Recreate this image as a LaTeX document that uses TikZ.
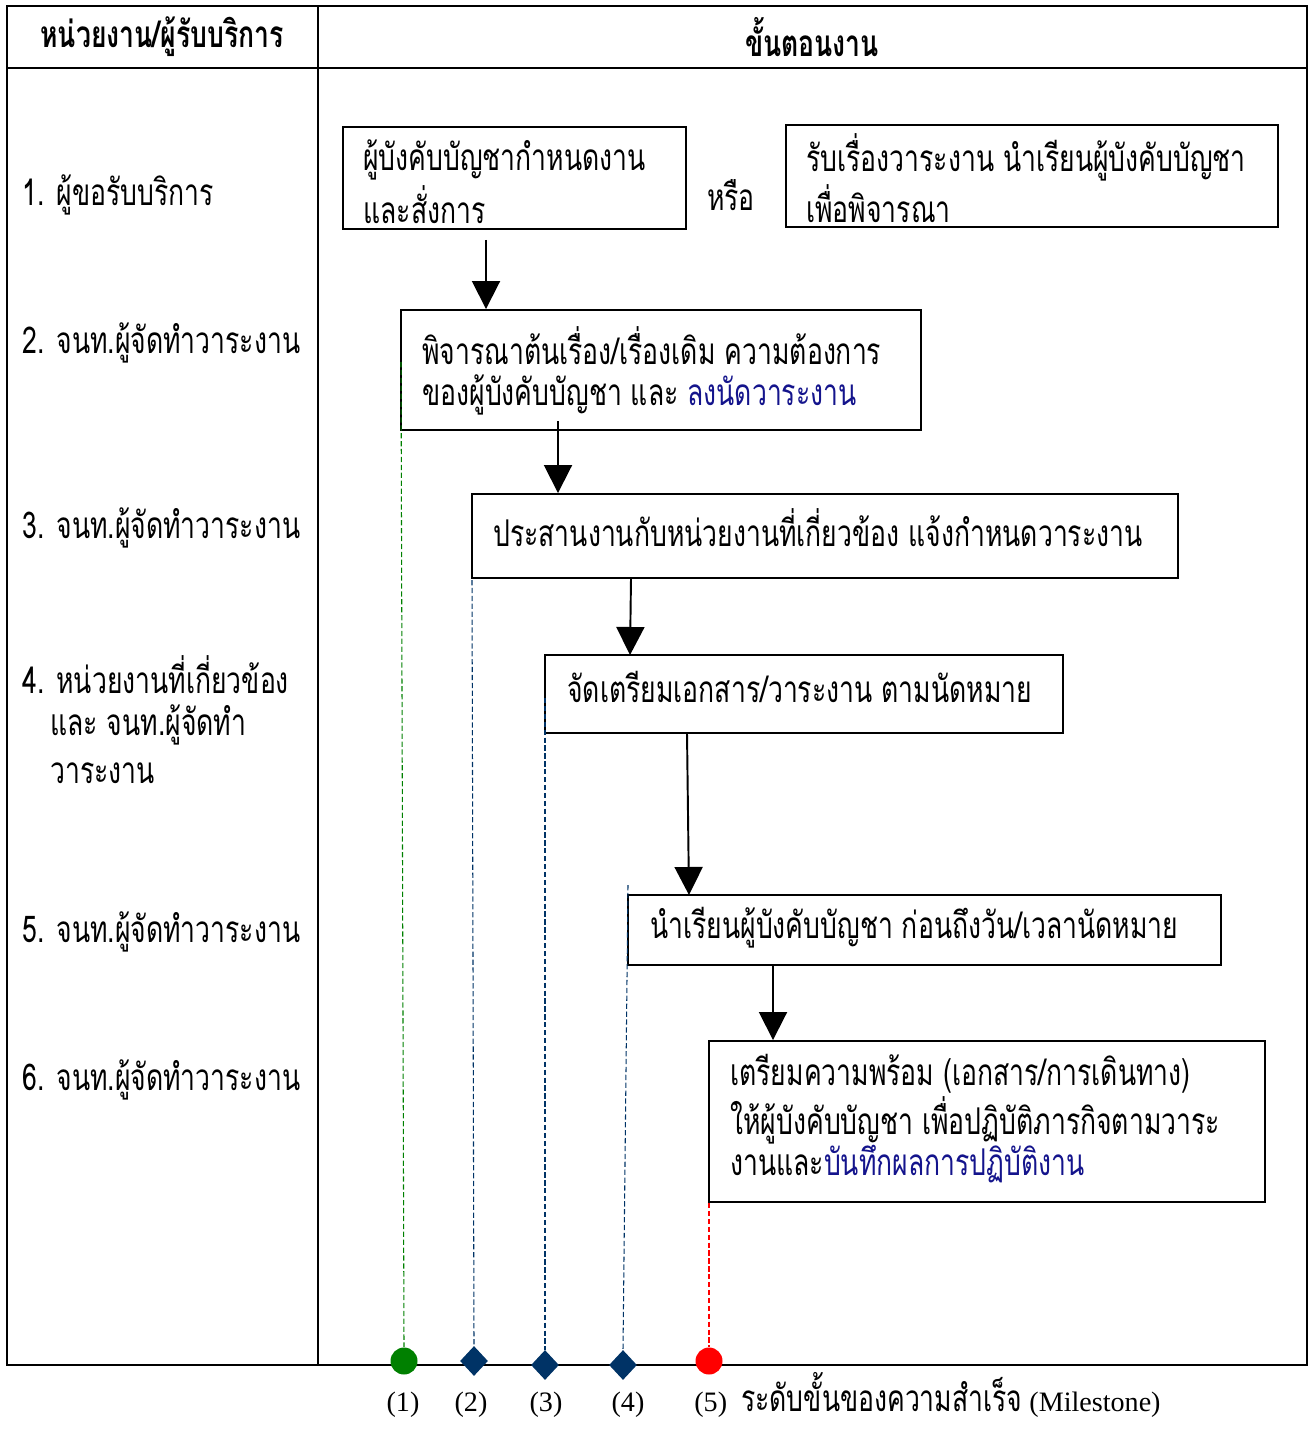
\documentclass[tikz,border=0pt]{standalone}
\usepackage{fontspec}
\setmainfont{Liberation Serif}
\newfontfamily\thai[Script=Thai,FakeStretch=0.72]{Loma}
\usetikzlibrary{arrows.meta,calc,fit,shapes.geometric}
\definecolor{navyt}{RGB}{20,20,140}
\definecolor{msgreen}{RGB}{0,128,0}
\definecolor{msblue}{RGB}{0,51,102}
\definecolor{msred}{RGB}{255,0,0}
\begin{document}
\begin{tikzpicture}[x=0.02cm,y=-0.02cm,
  tbl/.style={line width=1.2pt},
  box/.style={draw,line width=1.1pt,inner sep=0pt},
  txt/.style={font=\thai\fontsize{21}{25}\selectfont,anchor=west,inner sep=0pt},
  hdr/.style={font=\thai\bfseries\fontsize{21}{25}\selectfont,inner sep=0pt},
  lat/.style={font=\fontsize{16}{19}\selectfont,inner sep=0pt,anchor=base},
  arr/.style={line width=1.1pt,-{Triangle[width=0.56cm,length=0.56cm]}},
  dl/.style={line width=0.6pt,dash pattern=on 3pt off 1.5pt},
  dot/.style={circle,inner sep=0pt,minimum size=0.54cm},
  dia/.style={diamond,inner sep=0pt,minimum width=0.56cm,minimum height=0.6cm,fill=msblue}]
\useasboundingbox (0,0) rectangle (1309,1429);
% table
\draw[tbl] (7,6) rectangle (1307,1365);
\draw[tbl] (318,6) -- (318,1365);
\draw[tbl] (7,68) -- (1307,68);
\node[hdr] (h1) at (162,37) {หน่วยงาน/ผู้รับบริการ};
\node[hdr] (h2) at (812,37) {ขั้นตอนงาน};
% left labels
\node[txt] (l1) at (22,195) {1. ผู้ขอรับบริการ};
\node[txt] (l2) at (22,343) {2. จนท.ผู้จัดทำวาระงาน};
\node[txt] (l3) at (22,528) {3. จนท.ผู้จัดทำวาระงาน};
\node[txt] (l4a) at (22,675) {4. หน่วยงานที่เกี่ยวข้อง};
\node[txt] (l4b) at (50,725) {และ จนท.ผู้จัดทำ};
\node[txt] (l4c) at (50,773) {วาระงาน};
\node[txt] (l5) at (22,932) {5. จนท.ผู้จัดทำวาระงาน};
\node[txt] (l6) at (22,1080) {6. จนท.ผู้จัดทำวาระงาน};
% boxes
\coordinate (b1nw) at (343,127); \coordinate (b1se) at (686,229);
\node[box,fit=(b1nw)(b1se)] (b1) {};
\node[txt] (t1a) at (363,160) {ผู้บังคับบัญชากำหนดงาน};
\node[txt] (t1b) at (363,205) {และสั่งการ};
\node[txt,anchor=center] (or) at (731,195) {หรือ};
\coordinate (bbnw) at (786,125); \coordinate (bbse) at (1278,227);
\node[box,fit=(bbnw)(bbse)] (bb) {};
\node[txt] (tba) at (806,157) {รับเรื่องวาระงาน นำเรียนผู้บังคับบัญชา};
\node[txt] (tbb) at (806,204) {เพื่อพิจารณา};
\coordinate (b2nw) at (401,310); \coordinate (b2se) at (921,430);
\node[box,fit=(b2nw)(b2se)] (b2) {};
\node[txt] (t2a) at (422,346) {พิจารณาต้นเรื่อง/เรื่องเดิม ความต้องการ};
\node[txt] (t2b) at (422,395) {ของผู้บังคับบัญชา และ \textcolor{navyt}{ลงนัดวาระงาน}};
\coordinate (b3nw) at (472,494); \coordinate (b3se) at (1178,578);
\node[box,fit=(b3nw)(b3se)] (b3) {};
\node[txt] (t3) at (493,528) {ประสานงานกับหน่วยงานที่เกี่ยวข้อง แจ้งกำหนดวาระงาน};
\coordinate (b4nw) at (545,655); \coordinate (b4se) at (1063,733);
\node[box,fit=(b4nw)(b4se)] (b4) {};
\node[txt] (t4) at (567,687) {จัดเตรียมเอกสาร/วาระงาน ตามนัดหมาย};
\coordinate (b5nw) at (628,895); \coordinate (b5se) at (1221,965);
\node[box,fit=(b5nw)(b5se)] (b5) {};
\node[txt] (t5) at (650,928) {นำเรียนผู้บังคับบัญชา ก่อนถึงวัน/เวลานัดหมาย};
\coordinate (b6nw) at (709,1041); \coordinate (b6se) at (1265,1202);
\node[box,fit=(b6nw)(b6se)] (b6) {};
\node[txt] (t6a) at (730,1074) {เตรียมความพร้อม (เอกสาร/การเดินทาง)};
\node[txt] (t6b) at (730,1120) {ให้ผู้บังคับบัญชา เพื่อปฏิบัติภารกิจตามวาระ};
\node[txt] (t6c) at (730,1164) {งานและ\textcolor{navyt}{บันทึกผลการปฏิบัติงาน}};
% arrows
\coordinate (a1) at (486,240);
\draw[arr] (a1) -- (a1 |- b2.north);
\coordinate (a2) at (558,421);
\draw[arr] (a2) -- (a2 |- b3.north);
\coordinate (a3) at (631,578); \coordinate (a3e) at (630,655);
\draw[arr] (a3) -- (a3e);
\coordinate (a4) at (687,733); \coordinate (a4e) at (689,895);
\draw[arr] (a4) -- (a4e);
\coordinate (a5) at (773,965);
\draw[arr] (a5) -- (a5 |- b6.north);
% milestones
\draw[tbl] (7,1365) -- (1307,1365);
\node[dot,fill=msgreen] (m1) at (404,1361) {};
\node[dia] (m2) at (474,1361) {};
\node[dia] (m3) at (545,1365) {};
\node[dia] (m4) at (623,1365) {};
\node[dot,fill=msred] (m5) at (709,1361) {};
\coordinate (d1) at (401,362);
\coordinate (d2) at (472,580);
\coordinate (d3) at (545,698);
\coordinate (d4) at (628,885);
\coordinate (d5) at (709,1203);
\draw[dl,msgreen] (d1) -- (m1.north);
\draw[dl,msblue] (d2) -- (m2.north);
\draw[dl,msblue] (d3) -- (m3.north);
\draw[dl,msblue] (d4) -- (m4.north);
\draw[dl,msred] (d5) -- (m5.north);
\node[lat] (n1) at (403,1411) {(1)};
\node[lat] (n2) at (471,1411) {(2)};
\node[lat] (n3) at (546,1411) {(3)};
\node[lat] (n4) at (628,1411) {(4)};
\node[lat,anchor=base west] (n5) at (694,1411) {(5)\hspace{0.5em}{\thai\fontsize{21}{25}\selectfont ระดับขั้นของความสำเร็จ} (Milestone)};
\end{tikzpicture}
\end{document}
